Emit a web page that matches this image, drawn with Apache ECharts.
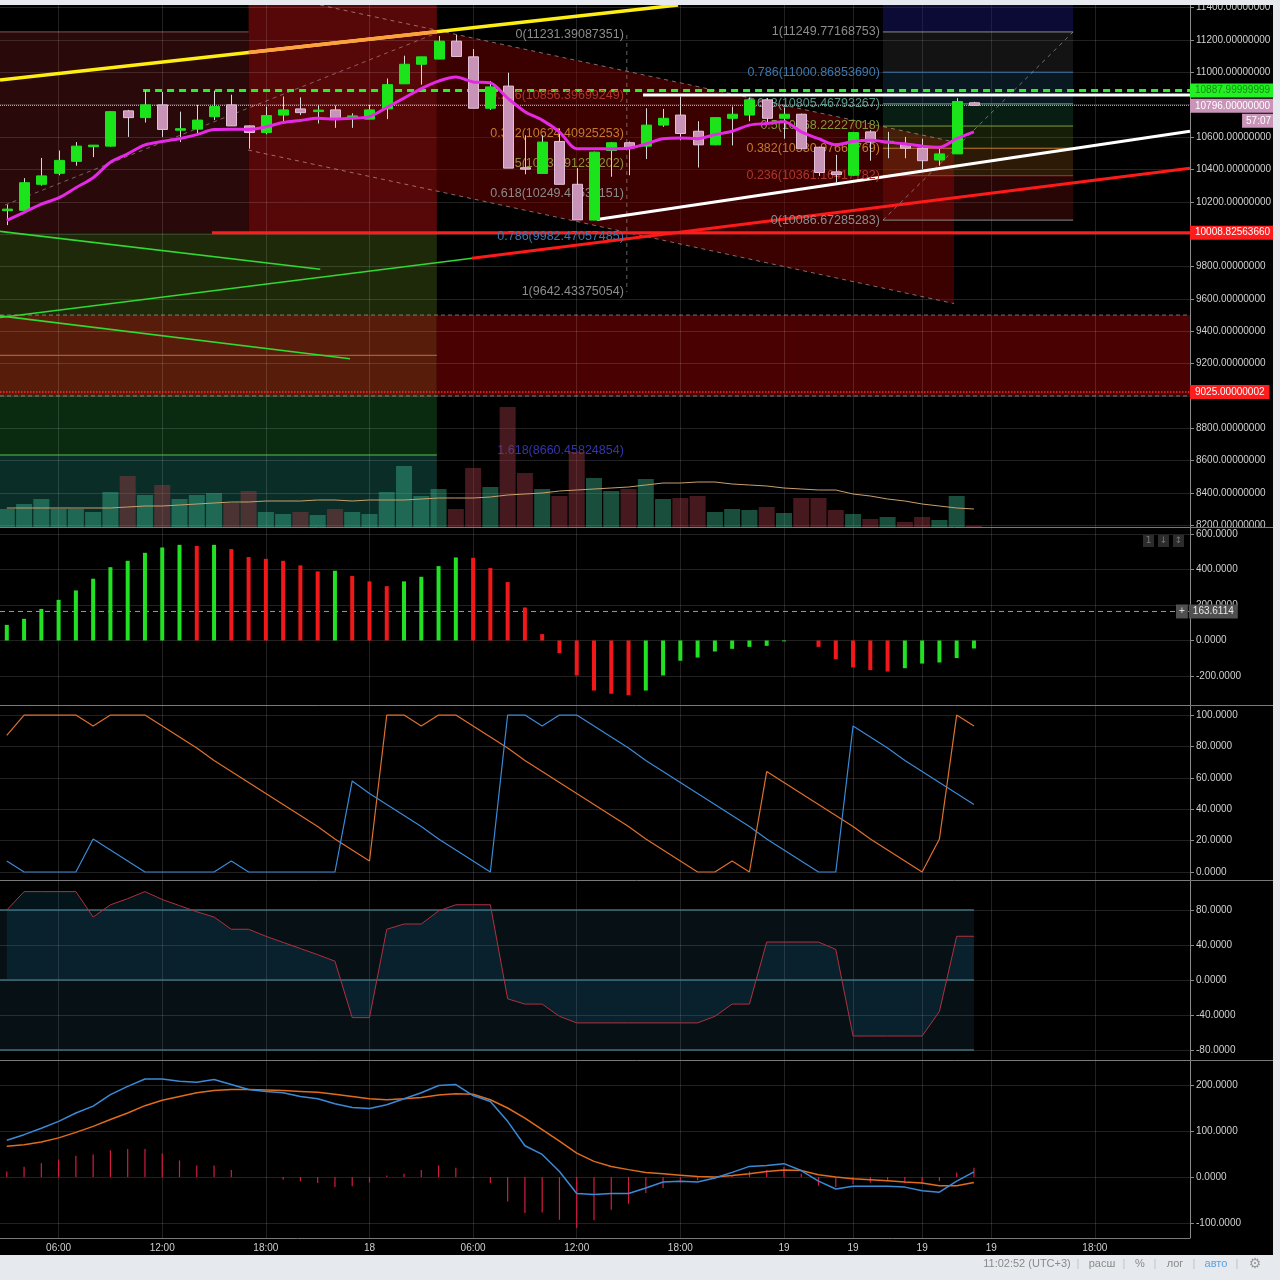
<!DOCTYPE html>
<html><head><meta charset="utf-8">
<script src="https://cdn.jsdelivr.net/npm/echarts@6/dist/echarts.min.js"></script>
<style>html,body{margin:0;padding:0;background:#000;}#c{width:1280px;height:1280px;}</style>
</head><body><div id="c"></div>
<script>
// ---------------- DATA ----------------
const timeTicks  = [3, 9, 15, 21, 27, 33, 39, 45, 49, 53, 57, 63];
const timeLabels = ['06:00','12:00','18:00','18','06:00','12:00','18:00','19','19','19','19','18:00'];
const priceTicks = [8200,8400,8600,8800,9000,9200,9400,9600,9800,10000,10200,10400,10600,10800,11000,11200,11400];
const momTicks   = [-200, 0, 200, 400, 600];
const stochTicks = [0, 20, 40, 60, 80, 100];
const oscTicks   = [-80, -40, 0, 40, 80];
const macdTicks  = [-100, 0, 100, 200];

const open  = [10148,10147,10308,10376,10450,10545,10544,10762,10720,10799,10646,10649,10726,10799,10669,10628,10736,10774,10761,10768,10725,10711,10774,10929,11050,11082,11193,11096,10778,10915,10407,10375,10573,10308,10087,10517,10565,10544,10674,10736,10636,10552,10716,10736,10830,10716,10741,10537,10385,10364,10632,10568,10558,10531,10458,10496,10812];
const close = [10152,10318,10360,10456,10544,10546,10757,10720,10799,10647,10648,10705,10789,10669,10628,10733,10768,10751,10763,10716,10727,10768,10924,11050,11096,11193,11098,10778,10910,10408,10405,10569,10308,10088,10507,10565,10534,10674,10716,10622,10552,10720,10741,10830,10716,10741,10528,10381,10368,10628,10569,10570,10531,10454,10496,10820,10796];
const low   = [10056,10135,10300,10364,10423,10476,10540,10601,10690,10601,10569,10615,10705,10669,10528,10617,10695,10736,10684,10657,10657,10711,10711,10929,10924,11082,11098,10778,10768,10408,10370,10375,10308,10088,10087,10355,10364,10464,10663,10580,10412,10550,10548,10698,10684,10590,10525,10360,10318,10360,10454,10469,10469,10402,10423,10496,10794];
const high  = [10182,10346,10471,10517,10569,10548,10760,10768,10888,10879,10757,10799,10887,10862,10672,10789,10851,10845,10799,10795,10747,10799,10962,11103,11096,11225,11231,11144,10946,10998,10611,10611,10653,10408,10510,10570,10573,10778,10774,10851,10698,10722,10789,10845,10841,10783,10745,10540,10490,10632,10643,10632,10601,10590,10528,10841,10818];
const priceMa = [10085,10135,10185,10224,10287,10349,10444,10496,10552,10573,10590,10615,10647,10649,10647,10663,10690,10703,10716,10711,10716,10726,10783,10841,10900,10946,10971,10941,10935,10841,10757,10705,10632,10528,10528,10528,10531,10558,10590,10594,10590,10615,10636,10674,10684,10695,10632,10590,10552,10573,10580,10569,10558,10544,10537,10590,10632];
const volume   = [18,23,28,18,18,15,35,51,32,42,28,32,34,24,36,15,13,15,12,18,15,13,35,61,31,38,18,59,40,120,54,38,31,75,49,36,38,48,28,29,31,15,18,17,20,14,29,29,17,13,8,10,5,10,7,31,1];
const volumeMa = [19,19,19,19,19,19,19,20,21,21,22,23,24,25,25,26,26,26,27,27,26,27,27,27,28,29,29,29,30,32,33,34,36,37,38,39,40,42,44,44,45,45,43,42,41,39,38,37,37,33,31,28,26,23,21,19,18];
const momentum = [88,122,178,229,282,348,413,449,494,524,539,533,539,515,470,460,449,423,389,393,363,333,306,333,359,419,468,466,408,329,186,36,-71,-197,-282,-300,-308,-282,-197,-114,-96,-62,-47,-36,-30,-5,0,-36,-105,-152,-167,-175,-156,-130,-124,-99,-45];
const momentumMarker = 163.6114;
const stochK = [87,100,100,100,100,93,100,100,100,93,86,79,71,64,57,50,43,36,29,21,14,7,100,100,93,100,100,93,86,79,71,64,57,50,43,36,29,21,14,7,0,0,7,0,64,57,50,43,36,29,21,14,7,0,21,100,93];
const stochD = [7,0,0,0,0,21,14,7,0,0,0,0,0,7,0,0,0,0,0,0,58,50,43,36,29,21,14,7,0,100,100,93,100,100,93,86,79,71,64,57,50,43,36,29,21,14,7,0,0,93,86,79,71,64,57,50,43];
const osc = [80,101,101,101,101,72,86,93,101,92,85,78,72,58,58,50,43,36,29,21.5,-43,-43,58,64,64,79,86,86,86,-21.5,-27.5,-27.5,-41.5,-49,-49,-49,-49,-49,-49,-49,-49,-41.5,-27.5,-27.5,43.4,43.4,43.4,43.4,35,-64,-64,-64,-64,-64,-36,50,50];
const oscBand = [-80, 0, 80];
const macdLine   = [80,92,106,121,139,154,179,197,213,213,208,206,212,201,190,186,183,175,170,159,151,149,157,170,183,199,201,177,164,121,68,49,12,-36,-38,-36,-36,-24,-11,-9,-11,-2,10,23,25,29,14,-9,-26,-20,-20,-20,-22,-30,-33,-9,11];
const macdSignal = [67,70,76,85,97,110,125,139,155,167,175,183,188,190,190,189,188,186,184,180,175,170,168,170,173,178,181,180,168,150,128,103,78,52,34,23,16,10,7,4,1,0,3,7,12,15,14,5,0,-4,-6,-8,-11,-13,-19,-19,-12];
const macdHist   = [12,22,30,38,46,49,58,61,61,51,36,25,25,15,0,-1,-6,-9,-13,-22,-20,-12,3,7,15,25,20,-2,-13,-53,-78,-77,-93,-111,-94,-71,-58,-35,-24,-12,-7,-4,4,12,15,22,7,-19,-22,-15,-12,-9,-13,-15,-9,10,20];

// Fibonacci tools (ratio, price)
const fib1Ratios = [0, 0.236, 0.382, 0.5, 0.618, 0.786, 1, 1.618];
const fib1Prices = [11231.39087351, 10856.39699249, 10624.40925253, 10436.91231202, 10249.41537151, 9982.47057485, 9642.43375054, 8660.45824854];
const fib2Ratios = [1, 0.786, 0.618, 0.5, 0.382, 0.236, 0];
const fib2Prices = [11249.77168753, 11000.86853690, 10805.46793267, 10668.22227018, 10530.97660769, 10361.16417782, 10086.67285283];

// Levels marked on the price scale
const levelGreen   = 10887.99999999;
const levelWhite   = 10860;
const levelRed     = 10008.8256366;
const levelLow     = 9025.00000002;
const lastPrice    = 10796;
const countdown    = '57:07';

// Hand-drawn annotations in (bar index, price)
const XMIN = -0.3937, XMAX = 68.51;
const zoneRects = [
  [XMIN, 14, 10008.83, 11250],
  [14, 24.9, 10008.83, 11417],
  [XMIN, 24.9, 9500, 10008.83],
  [XMIN, 24.9, 9000, 9500],
  [XMIN, 24.9, 8635, 9000],
  [XMIN, 24.9, 8190, 8635],
  [24.9, XMAX, 9000, 9500]
];
const channelFill  = [[24.9, 11260], [54.85, 10570], [54.85, 9571], [24.9, 10266]];
const channelUpper = [[18.14, 11416], [54.85, 10570]];
const channelLower = [[13.97, 10520], [54.85, 9571]];
const yellowLine   = [[XMIN, 10953], [38.87, 11416]];
const yellowOnRed  = [[14, 11123], [24.9, 11251]];
const whiteTrend   = [[34.17, 10090], [XMAX, 10636]];
const supportGreen = [[XMIN, 9485], [26.94, 9851]];
const supportRed   = [[26.94, 9851], [XMAX, 10407]];
const greenLineA   = [[XMIN, 10017], [18.15, 9783]];
const greenLineB   = [[XMIN, 9495], [19.87, 9230]];
const riseDashed   = [[-0.1, 10180], [24.9, 11243]];
const fib1Vertical = [[35.9, 11231.39], [35.9, 9642.43]];
const fib2Diagonal = [[50.73, 10086.67], [61.74, 11249.77]];
const FIB1_X = 35.9, FIB2_X0 = 50.73, FIB2_X1 = 61.74;

// ---------------- STYLES ----------------
const FONT = "'Liberation Sans', Arial, sans-serif";
const zoneColors = ['#290909', '#560707', '#1d2909', '#581d0a', '#0b2b10', '#0b2d27', '#4a0101'];
const fib1Colors = ['#8c8c8c', '#b0362a', '#c47a2a', '#8f8f3a', '#8a8a8a', '#3d78b0', '#8c8c8c', '#3434aa'];
const fib2Colors = ['#8c8c8c', '#3d78b0', '#5a9a8a', '#7e9a3a', '#c47a2a', '#b0362a', '#8c8c8c'];
const fib2BandColors = ['rgba(25,25,120,0.45)','rgba(120,120,120,0.16)','rgba(40,110,150,0.22)','rgba(40,150,90,0.2)','rgba(110,150,40,0.2)','rgba(200,120,30,0.22)','rgba(200,30,30,0.2)'];
const GRIDLINE = 'rgba(255,255,255,0.13)';

// ---------------- BUILD ----------------
const chart = echarts.init(document.getElementById('c'), null, {width:1280, height:1280});
const grids = [
  {left:0, top:5,    width:1190, height:522},
  {left:0, top:527,  width:1190, height:178},
  {left:0, top:705,  width:1190, height:175},
  {left:0, top:880,  width:1190, height:180},
  {left:0, top:1060, width:1190, height:178}
];
function xAx(g, show) {
  return {type:'value', gridIndex:g, min:XMIN, max:XMAX, z:1,
    axisLine:{show:false, onZero:false}, axisTick:{show:false, customValues:timeTicks},
    axisLabel:{show:show, customValues:timeTicks, formatter:v => timeLabels[timeTicks.indexOf(v)],
      color:'#cfcfcf', fontSize:10, fontFamily:FONT, margin:5},
    splitLine:{show:true, lineStyle:{color:GRIDLINE, width:1}}};
}
function yAx(g, min, max, ticks, digits) {
  return {type:'value', gridIndex:g, position:'right', min:min, max:max, z:1,
    axisLine:{show:true, onZero:false, lineStyle:{color:'#8a8a8a'}},
    axisTick:{show:true, length:4, lineStyle:{color:'#8a8a8a'}, customValues:ticks},
    axisLabel:{show:true, customValues:ticks, formatter:v => Number(v).toFixed(digits),
      color:'#d0d0d0', fontSize:10, fontFamily:FONT, margin:6},
    splitLine:{show:true, lineStyle:{color:GRIDLINE, width:1}}};
}
const xAxes = [xAx(0,false), xAx(1,false), xAx(2,false), xAx(3,false), xAx(4,true)];
const yAxes = [
  yAx(0, 8189.9, 11416.3, priceTicks, 8),
  {type:'value', gridIndex:0, min:0, max:522, show:false, axisLine:{onZero:false}},
  yAx(1, -363.4, 639.4, momTicks, 4),
  yAx(2, -5.1, 106.4, stochTicks, 4),
  yAx(3, -91.4, 114.3, oscTicks, 4),
  yAx(4, -132.6, 254.3, macdTicks, 4)
];

const series = [];
function rectEl(api, r, fill) {
  const a = api.coord([r[0], r[3]]), b = api.coord([r[1], r[2]]);
  return {type:'rect', shape:{x:a[0], y:a[1], width:b[0]-a[0], height:b[1]-a[1]}, style:{fill:fill}};
}
function rectSeries(rects, colors, z, xi, yi) {
  return {type:'custom', xAxisIndex:xi, yAxisIndex:yi, z:z, silent:true, clip:true, animation:false,
    data:rects, encode:{x:[0,1], y:[2,3]},
    renderItem:(p, api) => rectEl(api, rects[p.dataIndex], colors[p.dataIndex])};
}
function seg(pts, color, width, type, z, extra) {
  return Object.assign({type:'line', xAxisIndex:0, yAxisIndex:0, data:pts, symbol:'none', silent:true,
    animation:false, z:z || 3, lineStyle:{color:color, width:width, type:type || 'solid'}}, extra || {});
}
function hLevel(x0, price, color, width, type, label) {
  const s = seg([[x0, price], [XMAX, price]], color, width, type, 3);
  if (label) s.endLabel = Object.assign({show:true, distance:0, fontFamily:FONT, fontSize:10}, label);
  return s;
}

// background zones
series.push(rectSeries(zoneRects, zoneColors, 0, 0, 0));
// channel fill
series.push({type:'custom', xAxisIndex:0, yAxisIndex:0, z:2, silent:true, clip:true, animation:false,
  data:[[channelFill[0][0], channelFill[0][1]]], encode:{x:0, y:1},
  renderItem:(p, api) => ({type:'polygon', shape:{points:channelFill.map(q => api.coord(q))}, style:{fill:'rgba(130,0,0,0.45)'}})});
// fib 2 bands
const fib2Bands = [];
const bandEdges = [11417].concat(fib2Prices);
for (let k = 0; k < bandEdges.length - 1; k++) fib2Bands.push([FIB2_X0, FIB2_X1, bandEdges[k+1], bandEdges[k]]);
series.push(rectSeries(fib2Bands, fib2BandColors, 2, 0, 0));
// fib 2 level lines
fib2Prices.forEach((p, k) => series.push(seg([[FIB2_X0, p], [FIB2_X1, p]], fib2Colors[k], 1, 'solid', 3)));

// annotation lines
const dashC = 'rgba(205,175,175,0.6)';
series.push(seg(channelUpper, dashC, 1, [4,4]));
series.push(seg(channelLower, dashC, 1, [4,4]));
series.push(seg(riseDashed, 'rgba(190,170,170,0.55)', 1, [4,4]));
series.push(seg(fib1Vertical, 'rgba(170,170,170,0.6)', 1, [4,4]));
series.push(seg(fib2Diagonal, 'rgba(170,170,170,0.6)', 1, [4,4]));
series.push(seg([[XMIN, 11250], [14, 11250]], 'rgba(190,150,150,0.6)', 1));
series.push(seg([[XMIN, 9251], [24.9, 9251]], '#a8602c', 1.2));
series.push(seg([[XMIN, 8635], [24.9, 8635]], '#55c455', 1.2));
series.push(seg([[XMIN, 9500], [XMAX, 9500]], dashC, 1, [4,3]));
series.push(seg([[XMIN, 9000], [XMAX, 9000]], dashC, 1, [4,3]));
series.push(seg(greenLineA, '#33d933', 1.6));
series.push(seg(greenLineB, '#33d933', 1.6));
series.push(seg(supportGreen, '#33d933', 1.6));
series.push(seg(supportRed, '#ff1a1a', 3));
series.push(seg(yellowLine, '#ffee11', 3.5));
series.push(seg(yellowOnRed, '#ffa040', 3.5));
series.push(seg(whiteTrend, '#ffffff', 3));
series.push(seg([[36.84, levelWhite], [XMAX, levelWhite]], '#ffffff', 3));

// fib labels
const labelItems = [];
fib1Ratios.forEach((r, k) => labelItems.push([FIB1_X, fib1Prices[k], r + '(' + fib1Prices[k].toFixed(8) + ')', fib1Colors[k]]));
fib2Ratios.forEach((r, k) => labelItems.push([FIB2_X0, fib2Prices[k], r + '(' + fib2Prices[k].toFixed(8) + ')', fib2Colors[k]]));
series.push({type:'custom', xAxisIndex:0, yAxisIndex:0, z:4, silent:true, animation:false,
  data:labelItems.map(it => [it[0], it[1]]), encode:{x:0, y:1},
  renderItem:(p, api) => {
    const it = labelItems[p.dataIndex]; const pt = api.coord([it[0], it[1]]);
    return {type:'text', x:pt[0]-3, y:pt[1], style:{text:it[2], fill:it[3], fontSize:12.5, fontFamily:FONT, align:'right', verticalAlign:'middle'}};
  }});

// volume
series.push({type:'bar', xAxisIndex:0, yAxisIndex:1, z:5, silent:true, animation:false, barWidth:16,
  data:volume.map((v, i) => ({value:[i, v], itemStyle:{color: close[i] >= open[i] ? 'rgba(60,185,145,0.42)' : 'rgba(165,60,72,0.42)'}}))});
series.push({type:'line', xAxisIndex:0, yAxisIndex:1, z:5, silent:true, animation:false, symbol:'none',
  data:volumeMa.map((v, i) => [i, v]), lineStyle:{color:'#c9a06e', width:1}});

// candles
const candleData = open.map((o, i) => [i, o, close[i], low[i], high[i]]);
series.push({type:'custom', xAxisIndex:0, yAxisIndex:0, z:6, silent:true, animation:false,
  data:candleData, encode:{x:0, y:[1,2,3,4]},
  renderItem:(p, api) => {
    const i = api.value(0), o = api.value(1), c = api.value(2), l = api.value(3), h = api.value(4);
    const pO = api.coord([i, o]), pC = api.coord([i, c]), pL = api.coord([i, l]), pH = api.coord([i, h]);
    const up = c >= o, w = 10;
    const x = Math.round(pO[0]) + 0.5;
    let top = Math.min(pO[1], pC[1]), hh = Math.abs(pO[1] - pC[1]);
    if (hh < 1.5) { top -= (1.5 - hh) / 2; hh = 1.5; }
    return {type:'group', children:[
      {type:'line', shape:{x1:x, y1:pH[1], x2:x, y2:pL[1]}, style:{stroke:'#d8d8d8', lineWidth:1}},
      {type:'rect', shape:{x:x - w/2, y:top, width:w, height:hh},
        style:{fill: up ? '#1be41b' : '#c893b6', stroke: up ? '#1be41b' : '#e3c0d8', lineWidth:1}}
    ]};
  }});
// price moving average
series.push({type:'line', xAxisIndex:0, yAxisIndex:0, z:7, silent:true, animation:false, symbol:'none', smooth:0.3,
  data:priceMa.map((v, i) => [i, v]), lineStyle:{color:'#e52ae5', width:3}});

// price scale markers
series.push(hLevel(7.89, levelGreen, '#2cf02c', 3, [7,5], {formatter:levelGreen.toFixed(8), backgroundColor:'#22f022', color:'#178a17', padding:[2,5]}));
series.push(hLevel(11.88, levelRed, '#ff1c1c', 3, 'solid', {formatter:levelRed.toFixed(8), backgroundColor:'#ff1c1c', color:'#ffffff', padding:[2,5]}));
series.push(hLevel(XMIN, levelLow, '#ff2a2a', 1.5, 'dotted', {formatter:levelLow.toFixed(8), backgroundColor:'#ff1c1c', color:'#ffffff', padding:[2,5]}));
series.push(hLevel(XMIN, lastPrice, 'rgba(235,215,228,0.85)', 1, 'dotted', {
  formatter:'{a|' + lastPrice.toFixed(8) + '}\n{b|' + countdown + '}', offset:[0, 8],
  rich:{a:{backgroundColor:'#c994b8', color:'#ffffff', padding:[2,5], fontSize:10, fontFamily:FONT, lineHeight:15},
        b:{backgroundColor:'#c994b8', color:'#ffffff', padding:[2,4], fontSize:10, fontFamily:FONT, lineHeight:15, align:'right'}}}));

// momentum pane
series.push({type:'bar', xAxisIndex:1, yAxisIndex:2, z:4, silent:true, animation:false, barWidth:4,
  data:momentum.map((v, i) => ({value:[i, v], itemStyle:{color: (i > 0 && v < momentum[i-1]) ? '#f01818' : '#22e022'}}))});
series.push({type:'line', xAxisIndex:1, yAxisIndex:2, z:3, silent:true, animation:false, symbol:'none',
  data:[[XMIN, momentumMarker], [XMAX, momentumMarker]], lineStyle:{color:'#9a9a9a', width:1, type:[5,4]},
  endLabel:{show:true, distance:0, offset:[-14, 0], formatter:'{p|+}{s| }{v|' + momentumMarker.toFixed(4) + '}',
    rich:{p:{backgroundColor:'#505050', color:'#e0e0e0', padding:[2,3], fontSize:10, fontFamily:FONT},
          s:{fontSize:10, width:1},
          v:{backgroundColor:'#505050', color:'#e8e8e8', padding:[2,4], fontSize:10, fontFamily:FONT}}}});

// stochastic pane
series.push({type:'line', xAxisIndex:2, yAxisIndex:3, z:3, silent:true, animation:false, symbol:'none',
  data:stochK.map((v, i) => [i, v]), lineStyle:{color:'#e0702c', width:1.2}});
series.push({type:'line', xAxisIndex:2, yAxisIndex:3, z:3, silent:true, animation:false, symbol:'none',
  data:stochD.map((v, i) => [i, v]), lineStyle:{color:'#3a8ad8', width:1.2}});

// oscillator pane
series.push(rectSeries([[XMIN, osc.length - 1, oscBand[0], oscBand[2]]], ['rgba(50,110,150,0.14)'], 0, 3, 4));
oscBand.forEach(b => series.push({type:'line', xAxisIndex:3, yAxisIndex:4, z:2, silent:true, animation:false, symbol:'none',
  data:[[XMIN, b], [osc.length - 1, b]], lineStyle:{color:'#3f6f7c', width:1.5}}));
series.push({type:'line', xAxisIndex:3, yAxisIndex:4, z:3, silent:true, animation:false, symbol:'none',
  data:osc.map((v, i) => [i, v]), lineStyle:{color:'#b0303e', width:1},
  areaStyle:{origin:0, color:'rgba(25,115,155,0.25)'}});

// MACD pane
series.push({type:'bar', xAxisIndex:4, yAxisIndex:5, z:3, silent:true, animation:false, barWidth:1.2,
  data:macdHist.map((v, i) => [i, v]), itemStyle:{color:'#d41c40'}});
series.push({type:'line', xAxisIndex:4, yAxisIndex:5, z:4, silent:true, animation:false, symbol:'none',
  data:macdSignal.map((v, i) => [i, v]), lineStyle:{color:'#e06c1c', width:1.5}});
series.push({type:'line', xAxisIndex:4, yAxisIndex:5, z:4, silent:true, animation:false, symbol:'none',
  data:macdLine.map((v, i) => [i, v]), lineStyle:{color:'#3a8ad8', width:1.5}});

// ---------------- CHROME ----------------
const LIGHT = '#e6e9ed';
const graphic = [
  {type:'rect', shape:{x:0, y:0, width:1280, height:5}, style:{fill:LIGHT}, z:100},
  {type:'rect', shape:{x:1273, y:0, width:7, height:1280}, style:{fill:LIGHT}, z:100},
  {type:'rect', shape:{x:0, y:1255, width:1280, height:25}, style:{fill:LIGHT}, z:100}
];
[527, 705, 880, 1060].forEach(y => graphic.push({type:'line', shape:{x1:0, y1:y+0.5, x2:1273, y2:y+0.5}, style:{stroke:'#7a7a7a', lineWidth:1}, z:90}));
graphic.push({type:'line', shape:{x1:0, y1:1238.5, x2:1190, y2:1238.5}, style:{stroke:'#7a7a7a', lineWidth:1}, z:90});
const statusItems = [
  ['11:02:52 (UTC+3)', 1027, '#8a8a8a'], ['|', 1078, '#c4c4c4'], ['расш', 1102, '#8a8a8a'], ['|', 1124, '#c4c4c4'],
  ['%', 1140, '#8a8a8a'], ['|', 1155, '#c4c4c4'], ['лог', 1175, '#8a8a8a'], ['|', 1194, '#c4c4c4'],
  ['авто', 1216, '#5aa2e2'], ['|', 1237, '#c4c4c4']
];
statusItems.forEach(s => graphic.push({type:'text', x:s[1], y:1264, z:101,
  style:{text:s[0], fill:s[2], fontSize:11, fontFamily:FONT, align:'center', verticalAlign:'middle'}}));
graphic.push({type:'text', x:1255, y:1264, z:101, style:{text:'⚙', fill:'#9a9a9a', fontSize:14, fontFamily:"'DejaVu Sans'", align:'center', verticalAlign:'middle'}});
['1', '↓', '↕'].forEach((g, k) => {
  graphic.push({type:'rect', shape:{x:1143 + k*15, y:535, width:11, height:12}, style:{fill:'#2c2c2c'}, z:95});
  graphic.push({type:'text', x:1148.5 + k*15, y:541, z:96, style:{text:g, fill:'#777', fontSize:9, fontFamily:"'DejaVu Sans'", align:'center', verticalAlign:'middle'}});
});

chart.setOption({
  backgroundColor:'#000000',
  animation:false,
  grid:grids,
  xAxis:xAxes,
  yAxis:yAxes,
  series:series,
  graphic:graphic
});
</script></body></html>
